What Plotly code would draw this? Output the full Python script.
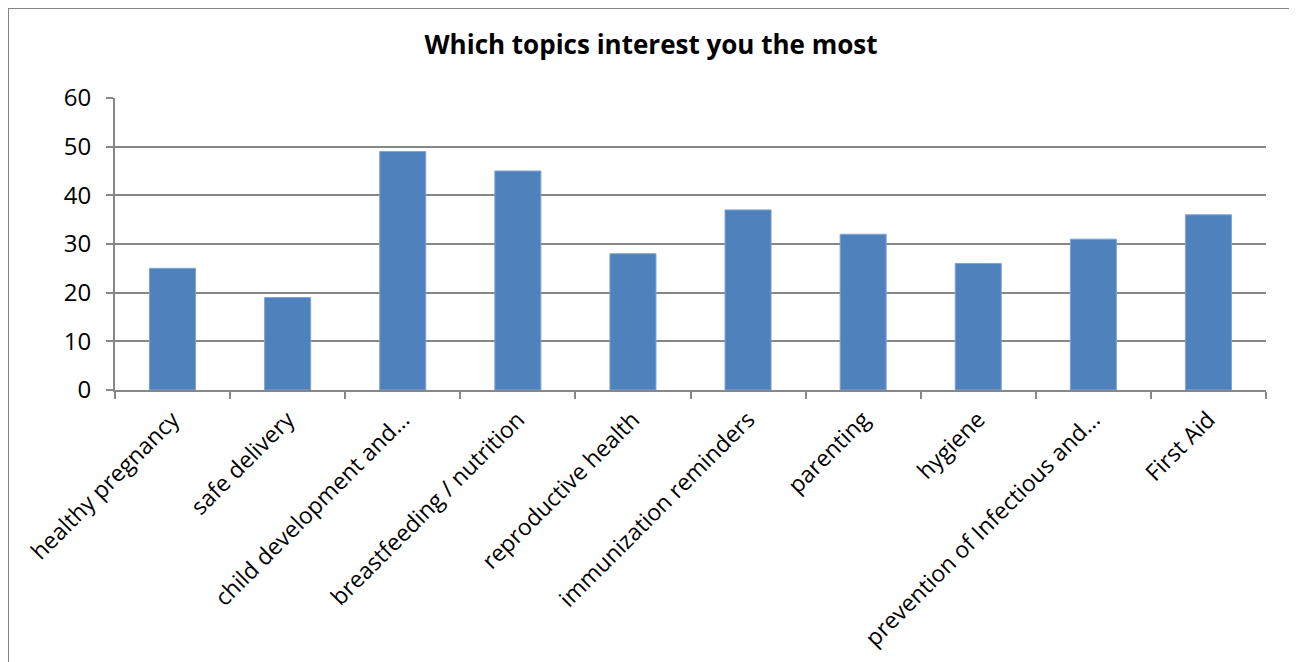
import plotly.graph_objects as go

categories = ["healthy pregnancy", "safe delivery", "child development and…",
              "breastfeeding / nutrition", "reproductive health", "immunization reminders",
              "parenting", "hygiene", "prevention of Infectious and…", "First Aid"]
values = [25, 19, 49, 45, 28, 37, 32, 26, 31, 36]
y_ticks = [0, 10, 20, 30, 40, 50, 60]

grid = "#878787"
font = "Open Sans"

OFF = 8
L, T, PW, PH = 115 - OFF, 98 - OFF, 1151, 292
W, H = 1297, 662

fig = go.Figure(go.Bar(x=categories, y=values,
                       marker=dict(color="#4F81BD", line=dict(color="#7FA3D3", width=1)),
                       width=0.4))

fig.update_layout(
    width=W, height=H,
    margin=dict(l=L, r=W - L - PW, t=T, b=H - T - PH),
    paper_bgcolor="white", plot_bgcolor="white",
    showlegend=False,
    title=dict(text="<b>Which topics interest you the most</b>", x=(651 - OFF) / W, xref="container",
               xanchor="center", y=1 - (45 - OFF) / H, yref="container", yanchor="middle",
               font=dict(family=font, size=26, color="black")),
    font=dict(family=font, color="black"),
)
fig.update_xaxes(
    type="category", showline=True, linecolor=grid, linewidth=2,
    ticks="outside", tickson="boundaries", ticklen=7, tickcolor=grid, tickwidth=2,
    tickangle=-45, tickfont=dict(family=font, size=23, color="black"),
    ticklabelstandoff=5,
    showgrid=False, range=[-0.5, 9.5],
)
fig.update_yaxes(
    range=[0, 60], tickvals=y_ticks, showline=True, linecolor=grid, linewidth=2,
    ticks="outside", ticklen=7, tickcolor=grid, tickwidth=2,
    showgrid=True, gridcolor=grid, gridwidth=2, zeroline=False,
    tickfont=dict(family=font, size=24, color="black"),
    ticklabelstandoff=10,
)
# chart border, kept inside the figure's own area
fig.add_shape(type="rect", xref="paper", yref="paper",
              x0=(0 - L) / PW, x1=(1294 - OFF - L) / PW,
              y0=(T + PH - (H + 20)) / PH, y1=(T + PH - 0) / PH,
              line=dict(color="#868686", width=2), fillcolor="rgba(0,0,0,0)", layer="below")

fig.write_html("out.html")
